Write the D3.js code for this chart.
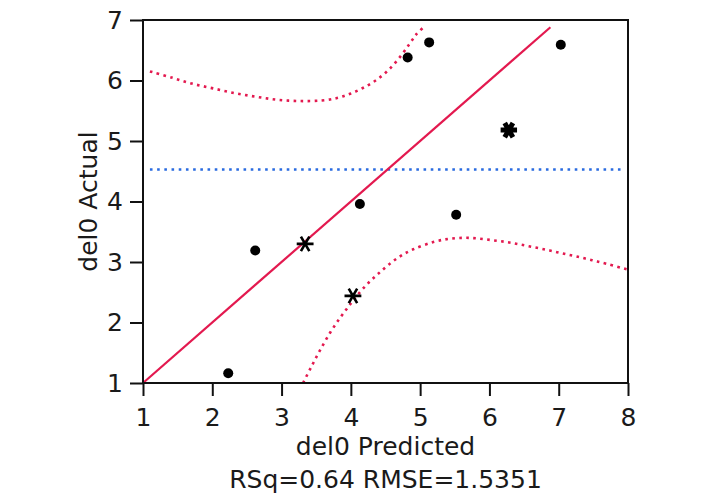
<!DOCTYPE html>
<html>
<head>
<meta charset="utf-8">
<script src="https://cdn.jsdelivr.net/npm/d3@7"></script>
<style>
    body { margin: 0; background: #fff; }
    text { font-family: "DejaVu Sans", sans-serif; fill: #1a1a1a; }
</style>
</head>
<body>
<script>
(function(){
//data
var predicted = [2.23, 2.62, 3.34, 4.03, 4.13, 4.82, 5.13, 5.52, 6.28, 7.03];
var actual    = [1.16, 3.19, 3.30, 2.44, 3.96, 6.38, 6.63, 3.78, 5.18, 6.59];
var markers   = ["dot", "dot", "star", "star", "dot", "dot", "dot", "dot", "boldstar", "dot"];

//fit line ends and mean of actual
var fitX = [1, 6.88];
var meanActual = 4.53;
var meanX = [1.1, 7.95];

//confidence curves (upper and lower)
var upperX = [1.10, 1.41, 1.70, 2.01, 2.33, 2.64, 2.95, 3.27, 3.58, 3.80, 3.99, 4.18, 4.37, 4.54, 4.71, 4.85, 4.95, 5.06];
var upperY = [6.15, 6.05, 5.95, 5.87, 5.79, 5.73, 5.68, 5.66, 5.67, 5.71, 5.78, 5.88, 6.01, 6.17, 6.39, 6.61, 6.77, 6.89];
var lowerX = [3.31, 3.43, 3.55, 3.70, 3.84, 3.97, 4.10, 4.25, 4.39, 4.55, 4.72, 4.90, 5.19, 5.40, 5.62, 5.82, 6.04, 6.25, 6.44, 6.66, 6.87, 7.06, 7.26, 7.48, 7.69, 7.98];
var lowerY = [1.00, 1.27, 1.53, 1.83, 2.07, 2.27, 2.46, 2.65, 2.80, 2.96, 3.10, 3.21, 3.33, 3.38, 3.40, 3.39, 3.36, 3.33, 3.29, 3.24, 3.19, 3.14, 3.09, 3.03, 2.97, 2.88];

var xTicks = [1, 2, 3, 4, 5, 6, 7, 8];
var yTicks = [1, 2, 3, 4, 5, 6, 7];

var statText = "RSq=0.64 RMSE=1.5351";

window.onload = setChart();

function setChart(){
    var width = 723,
        height = 498,
        left = 143,
        right = 628,
        top = 20,
        bottom = 383;

    var svg = d3.select("body")
        .append("svg")
        .attr("width", width)
        .attr("height", height);

    var x = d3.scaleLinear().domain([1, 8]).range([left, right]);
    var y = d3.scaleLinear().domain([1, 7]).range([bottom, top]);

    var line = d3.line()
        .x(function(d){ return x(d[0]); })
        .y(function(d){ return y(d[1]); });

    var curve = d3.line()
        .curve(d3.curveCatmullRom)
        .x(function(d){ return x(d[0]); })
        .y(function(d){ return y(d[1]); });

    var red = "#e3194f",
        blue = "#2a6be0";

    //mean line
    svg.append("path")
        .datum(meanX.map(function(v){ return [v, meanActual]; }))
        .attr("d", line)
        .attr("fill", "none")
        .attr("stroke", blue)
        .attr("stroke-width", 2.6)
        .attr("stroke-dasharray", "2.6,4.6");

    //confidence curves
    [[upperX, upperY], [lowerX, lowerY]].forEach(function(c){
        svg.append("path")
            .datum(c[0].map(function(v, i){ return [v, c[1][i]]; }))
            .attr("d", curve)
            .attr("fill", "none")
            .attr("stroke", red)
            .attr("stroke-width", 2.6)
            .attr("stroke-dasharray", "2.6,4.4");
    });

    //fit line
    svg.append("path")
        .datum(fitX.map(function(v){ return [v, v]; }))
        .attr("d", line)
        .attr("fill", "none")
        .attr("stroke", red)
        .attr("stroke-width", 2.2);

    //points
    var pts = predicted.map(function(v, i){ return {x: v, y: actual[i], m: markers[i]}; });

    svg.selectAll(".dot")
        .data(pts.filter(function(d){ return d.m == "dot"; }))
        .enter()
        .append("circle")
        .attr("class", "dot")
        .attr("cx", function(d){ return x(d.x); })
        .attr("cy", function(d){ return y(d.y); })
        .attr("r", 5)
        .attr("fill", "#000");

    svg.selectAll(".star")
        .data(pts.filter(function(d){ return d.m != "dot"; }))
        .enter()
        .append("path")
        .attr("class", "star")
        .attr("d", function(d){
            return d3.symbol().type(d3.symbolAsterisk).size(d.m == "boldstar" ? 190 : 200)();
        })
        .attr("transform", function(d){
            return "translate(" + x(d.x) + "," + y(d.y) + ") rotate(90)";
        })
        .attr("fill", "none")
        .attr("stroke", "#000")
        .attr("stroke-width", function(d){ return d.m == "boldstar" ? 5 : 2.6; });

    //axes
    var xAxis = svg.append("g")
        .attr("transform", "translate(0," + bottom + ")")
        .call(d3.axisBottom(x).tickValues(xTicks).tickFormat(d3.format("d"))
            .tickSize(13).tickSizeOuter(0).tickPadding(12));

    var yAxis = svg.append("g")
        .attr("transform", "translate(" + left + ",0)")
        .call(d3.axisLeft(y).tickValues(yTicks).tickFormat(d3.format("d"))
            .tickSize(13).tickSizeOuter(0).tickPadding(7));

    [xAxis, yAxis].forEach(function(a){
        a.select(".domain").remove();
        a.selectAll("line").attr("stroke", "#111").attr("stroke-width", 2);
        a.selectAll("text")
            .attr("font-family", "DejaVu Sans, sans-serif")
            .attr("font-size", 25)
            .attr("fill", "#1a1a1a");
    });

    //frame
    svg.append("rect")
        .attr("x", left)
        .attr("y", top)
        .attr("width", right - left)
        .attr("height", bottom - top)
        .attr("fill", "none")
        .attr("stroke", "#111")
        .attr("stroke-width", 2);

    //titles
    svg.append("text")
        .attr("x", (left + right) / 2)
        .attr("y", 455)
        .attr("text-anchor", "middle")
        .attr("font-size", 25)
        .text("del0 Predicted");

    svg.append("text")
        .attr("x", (left + right) / 2)
        .attr("y", 488)
        .attr("text-anchor", "middle")
        .attr("font-size", 25)
        .text(statText);

    svg.append("text")
        .attr("transform", "translate(97," + ((top + bottom) / 2) + ") rotate(-90)")
        .attr("text-anchor", "middle")
        .attr("font-size", 25)
        .text("del0 Actual");
};
})();
</script>
</body>
</html>
